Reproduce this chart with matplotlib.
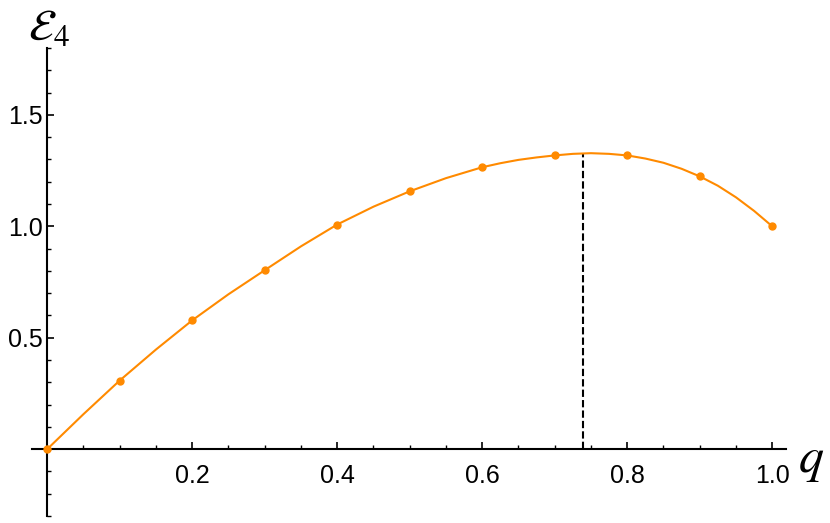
import numpy as np
import matplotlib
matplotlib.use("Agg")
import matplotlib.pyplot as plt
from matplotlib.ticker import MultipleLocator

# sampled points (markers)
q_pts = [0.0, 0.1, 0.2, 0.3, 0.4, 0.5, 0.6, 0.7, 0.8, 0.9, 1.0]
e_pts = [0.0, 0.308, 0.578, 0.803, 1.008, 1.157, 1.265, 1.318, 1.318, 1.224, 1.0]

# smooth curve at finer steps
q_curve = [0.0, 0.05, 0.1, 0.15, 0.2, 0.25, 0.3, 0.35, 0.4, 0.45, 0.5, 0.55,
           0.6, 0.625, 0.65, 0.675, 0.7, 0.725, 0.75, 0.775, 0.8, 0.825,
           0.85, 0.875, 0.9, 0.925, 0.95, 0.975, 1.0]
e_curve = [0.0, 0.157, 0.308, 0.447, 0.578, 0.695, 0.803, 0.910, 1.008, 1.088,
           1.157, 1.216, 1.265, 1.283, 1.298, 1.309, 1.318, 1.325, 1.328,
           1.325, 1.318, 1.304, 1.285, 1.258, 1.224, 1.182, 1.130, 1.069, 1.0]

# location of the maximum
q_max = 0.739
e_max = 1.327

orange = "#ff8a00"

plt.rcParams["mathtext.fontset"] = "stix"
fig = plt.figure(figsize=(8.3, 5.23), dpi=100)
ax = fig.add_axes([32 / 830, 1 - 516 / 523, 754 / 830, 468 / 523])

ax.plot(q_curve, e_curve, color=orange, lw=1.5, zorder=3)
ax.plot(q_pts, e_pts, "o", color=orange, ms=5, zorder=4)
ax.plot([q_max, q_max], [0, e_max], color="black", lw=1.5,
        dashes=(3.5, 1.5), zorder=2)

ax.set_xlim(-0.021, 1.019)
ax.set_ylim(-0.30, 1.80)

for s in ["top", "right"]:
    ax.spines[s].set_visible(False)
ax.spines["left"].set_position(("data", 0))
ax.spines["bottom"].set_position(("data", 0))
ax.spines["left"].set_linewidth(1.5)
ax.spines["bottom"].set_linewidth(1.5)

ax.set_xticks([0.2, 0.4, 0.6, 0.8, 1.0])
ax.set_xticklabels(["0.2", "0.4", "0.6", "0.8", "1.0"])
ax.set_yticks([0.5, 1.0, 1.5])
ax.set_yticklabels(["0.5", "1.0", "1.5"])
ax.xaxis.set_minor_locator(MultipleLocator(0.05))
ax.yaxis.set_minor_locator(MultipleLocator(0.1))
ax.tick_params(which="major", direction="in", length=5, width=1.2,
               labelsize=18, labelfontfamily="Liberation Sans")
ax.tick_params(which="minor", direction="in", length=3, width=1.0)
ax.tick_params(axis="x", pad=11)
ax.tick_params(axis="y", pad=3)

fig.text(798 / 830, 1 - 472 / 523, r"$q$", fontsize=36, ha="left", va="baseline")
fig.text(28 / 830, 1 - 40 / 523, r"$\mathcal{E}_4$", fontsize=32,
         ha="left", va="baseline")

fig.savefig("out.png", dpi=100)
